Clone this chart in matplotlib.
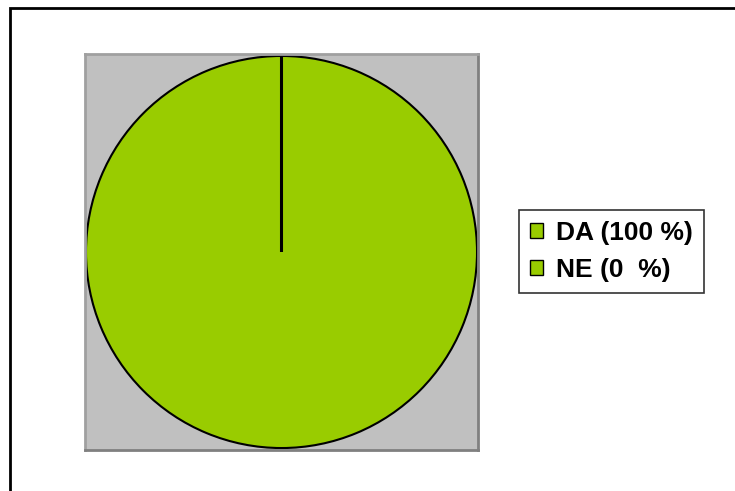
import matplotlib
matplotlib.use("Agg")
from matplotlib import pyplot as plt
from matplotlib.patches import Rectangle

labels = ["DA (100 %)", "NE (0  %)"]
values = [100, 0]
colors = ["#99cc00", "#99cc00"]

W, H = 735, 491

plt.rcParams['font.family'] = ['Liberation Sans', 'DejaVu Sans']

fig = plt.figure(figsize=(W / 100, H / 100), dpi=100)

# outer frame (only left and top edges are visible in the picture)
fig.patches.append(Rectangle((10 / W, -0.1), 1.2, 1.1 - 8 / H,
                             transform=fig.transFigure, fill=False,
                             edgecolor="black", linewidth=2))

ax = fig.add_axes([85 / W, (H - 450) / H, 393 / W, 396 / H])
wedges, _ = ax.pie(values, colors=colors, startangle=90, counterclock=False,
                   wedgeprops=dict(edgecolor="black", linewidth=1.5))
ax.set_frame_on(True)
ax.set_aspect("auto")
ax.set_xlim(-1.005, 1.005)
ax.set_ylim(-1.01, 1.01)
ax.set_xticks([])
ax.set_yticks([])
ax.set_facecolor("#c0c0c0")
for sp in ax.spines.values():
    sp.set_color("#808080")
    sp.set_linewidth(2)
ax.spines["left"].set_color("#a0a0a0")
ax.spines["top"].set_color("#a0a0a0")
# the radial line of the empty slice is a bit heavier
wedges[1].set_linewidth(2.2)

leg = fig.legend(wedges, labels, loc="center left",
                 bbox_to_anchor=(519 / W, (H - 251.5) / H),
                 borderaxespad=0, frameon=True, fancybox=False,
                 edgecolor="black", handlelength=0.48, handleheight=0.48,
                 handletextpad=0.5, labelspacing=0.5, borderpad=0.42,
                 prop=dict(weight="bold", size=19))
leg.get_frame().set_linewidth(1.2)
for h in leg.legend_handles:
    h.set_edgecolor("black")
    h.set_linewidth(1)

fig.savefig("out.png", dpi=100)
